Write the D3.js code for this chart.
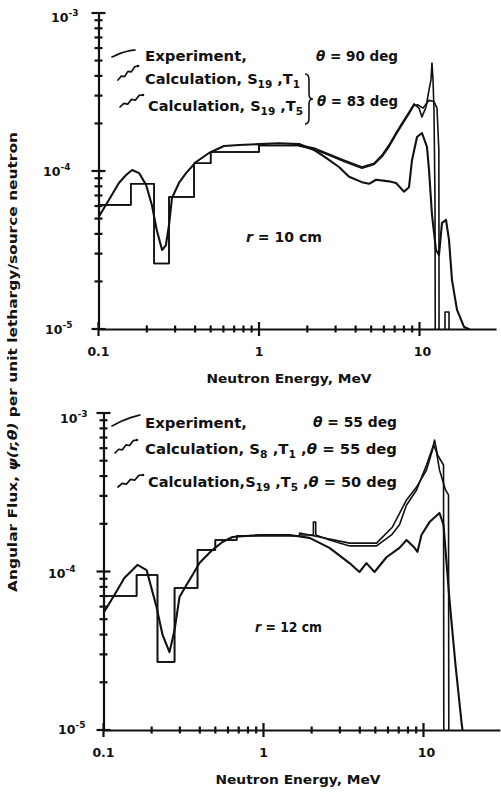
<!DOCTYPE html>
<html>
<head>
<meta charset="utf-8">
<script src="https://cdn.jsdelivr.net/npm/d3@7"></script>
<style>
  html, body { margin: 0; padding: 0; background: #fff; }
  svg { display: block; }
  text { font-family: 'DejaVu Sans', sans-serif; font-weight: bold; fill: #111; }
</style>
</head>
<body>
<svg id="chart" width="501" height="795"></svg>
<script>
// ---------- axis tick labels ----------
const xTickValues = [0.1, 1, 10];
const xTickLabels = ["0.1", "1", "10"];
const yTickValues = [1e-5, 1e-4, 1e-3];
const yTickExponents = ["-5", "-4", "-3"];

// ---------- r = 10 cm (upper panel) ----------
// group-histogram part shared by both calculations: bin edges (MeV) and flux per bin
const stepEdges10 = [0.1, 0.159, 0.222, 0.275, 0.394, 0.5, 1.0, 1.78];
const stepFlux10  = [6.1e-5, 8.3e-5, 2.6e-5, 6.85e-5, 1.12e-4, 1.32e-4, 1.45e-4];

// [energy MeV, flux]
const exp10 = [
  [0.1,5.1e-5],[0.116,6.55e-5],[0.134,8.4e-5],[0.148,9.4e-5],[0.162,1.015e-4],[0.179,9.7e-5],
  [0.198,8.15e-5],[0.215,6.1e-5],[0.231,4.2e-5],[0.249,3.16e-5],[0.263,3.4e-5],[0.275,4.55e-5],
  [0.287,6.75e-5],[0.317,8.4e-5],[0.351,9.7e-5],[0.405,1.14e-4],[0.488,1.30e-4],[0.605,1.44e-4],
  [0.75,1.46e-4],[1.0,1.48e-4],[1.33,1.50e-4],[1.78,1.48e-4],[2.2,1.36e-4],[2.62,1.21e-4],
  [3.15,1.06e-4],[3.64,9.2e-5],[4.38,8.5e-5],[4.85,8.3e-5],[5.36,8.8e-5],[6.45,8.6e-5],
  [7.14,8.4e-5],[8.0,7.4e-5],[8.6,7.9e-5],[8.98,1.17e-4],[9.65,1.64e-4],[10.36,1.74e-4],
  [11.13,1.42e-4],[11.46,1.02e-4],[11.96,5.3e-5],[12.67,3.16e-5],[13.23,2.94e-5],[13.81,4.7e-5],
  [14.63,4.9e-5],[15.27,3.66e-5],[15.94,2.04e-5],[17.13,1.32e-5],[18.94,1.03e-5],[20.3,1e-5]
];
const calcT1_10 = [
  [1.78,1.46e-4],[2.2,1.40e-4],[2.62,1.30e-4],[3.39,1.17e-4],[4.38,1.06e-4],[5.21,1.12e-4],
  [5.84,1.26e-4],[6.45,1.46e-4],[7.14,1.74e-4],[7.78,2.01e-4],[8.6,2.36e-4],[9.24,2.66e-4],
  [9.93,2.5e-4],[10.36,2.2e-4],[10.98,2.54e-4],[11.46,3.26e-4],[11.79,3.77e-4],[11.96,4.83e-4],
  [12.14,3.77e-4],[12.31,2.43e-4],[12.49,6.5e-5],[12.55,5e-6]
];
const calcT5_10 = [
  [1.78,1.44e-4],[2.2,1.37e-4],[2.62,1.28e-4],[3.39,1.15e-4],[4.38,1.04e-4],[5.21,1.10e-4],
  [5.84,1.23e-4],[6.45,1.42e-4],[7.14,1.70e-4],[7.78,1.96e-4],[8.6,2.30e-4],[9.24,2.60e-4],
  [9.79,2.62e-4],[10.51,2.50e-4],[11.46,2.80e-4],[12.31,2.75e-4],[12.85,2.50e-4],[13.2,1.36e-4],
  [13.25,5e-6],[14.42,5e-6],[14.42,1.28e-5],[15.27,1.28e-5],[15.27,5e-6]
];

// ---------- r = 12 cm (lower panel) ----------
const stepEdges12 = [0.1, 0.161, 0.2175, 0.278, 0.387, 0.5, 0.68, 1.68];
const stepFlux12  = [7.0e-5, 9.5e-5, 2.69e-5, 7.87e-5, 1.37e-4, 1.58e-4, 1.68e-4];

const exp12 = [
  [0.1,5.47e-5],[0.117,7.11e-5],[0.135,9.1e-5],[0.163,1.10e-4],[0.186,1.02e-4],[0.2145,5.97e-5],
  [0.234,3.98e-5],[0.2585,3.10e-5],[0.278,4.27e-5],[0.2985,6.9e-5],[0.33,8.22e-5],[0.36,9.5e-5],
  [0.398,1.13e-4],[0.48,1.37e-4],[0.554,1.535e-4],[0.64,1.65e-4],[0.944,1.70e-4],[1.454,1.70e-4],
  [1.94,1.63e-4],[2.585,1.41e-4],[3.447,1.13e-4],[3.98,9.93e-5],[4.40,1.13e-4],[4.94,9.93e-5],
  [5.87,1.23e-4],[7.08,1.41e-4],[7.83,1.58e-4],[8.79,1.41e-4],[9.17,1.33e-4],[9.71,1.70e-4],
  [10.9,2.05e-4],[12.59,2.34e-4],[13.34,1.97e-4],[14.54,6.6e-5],[15.85,2.57e-5],[17.28,1.12e-5],
  [17.53,1e-5]
];
const calcT1_12 = [
  [1.68,1.75e-4],[2.24,1.65e-4],[3.45,1.51e-4],[5.09,1.51e-4],[6.40,1.91e-4],[7.83,2.83e-4],
  [9.05,3.41e-4],[10.44,4.37e-4],[11.38,5.84e-4],[11.72,6.76e-4],[12.24,5.43e-4],[13.34,4.70e-4],
  [13.4,5e-6]
];
const calcT5_12 = [
  [1.68,1.70e-4],[2.05,1.70e-4],[2.05,2.05e-4],[2.12,2.05e-4],[2.12,1.70e-4],[2.59,1.58e-4],
  [3.45,1.45e-4],[5.09,1.45e-4],[6.31,1.70e-4],[7.08,1.97e-4],[7.83,2.63e-4],[9.05,3.27e-4],
  [10.44,4.70e-4],[11.55,6.28e-4],[12.06,5.67e-4],[12.59,4.37e-4],[13.73,3.27e-4],[14.33,3.04e-4],
  [14.4,5e-6]
];

// ---------- drawing ----------
const svg = d3.select("#chart");

function addRich(g, x, y, parts, size, opts = {}) {
  const t = g.append("text").attr("x", x).attr("y", y).attr("font-size", size);
  if (opts.anchor) t.attr("text-anchor", opts.anchor);
  if (opts.len) t.attr("textLength", opts.len).attr("lengthAdjust", "spacingAndGlyphs");
  if (opts.transform) t.attr("transform", opts.transform);
  let shift = 0;
  parts.forEach(p => {
    const s = typeof p === "string" ? { t: p } : p;
    const target = s.sub ? 4 : s.sup ? -6 : 0;
    const ts = t.append("tspan").text(s.t).attr("dy", target - shift);
    if (s.sub || s.sup) ts.attr("font-size", size * 0.72);
    if (s.it) ts.attr("font-style", "italic");
    shift = target;
  });
  return t;
}

function stepPoints(edges, flux) {
  const pts = [];
  flux.forEach((f, i) => { pts.push([edges[i], f], [edges[i + 1], f]); });
  return pts;
}

// legend glyph: smooth stroke, or a wiggly stroke with small kinks, from (x1,y1) to (x2,y2)
function swatch(g, x1, y1, x2, y2, jagged) {
  const n = jagged ? 6 : 3;
  const pts = d3.range(n + 1).map(i => {
    const t = i / n;
    const off = jagged ? (i % 2 ? -1.6 : 1.2) * (i > 0 && i < n ? 1 : 0)
                       : Math.sin(t * Math.PI) * -1.5;
    return [x1 + (x2 - x1) * t, y1 + (y2 - y1) * t + off];
  });
  g.append("path")
    .attr("d", d3.line().curve(jagged ? d3.curveLinear : d3.curveBasis)(pts))
    .attr("fill", "none").attr("stroke", "#111").attr("stroke-width", 1.7)
    .attr("stroke-linejoin", "round").attr("stroke-linecap", "round");
  if (jagged) {
    g.append("circle").attr("cx", x2).attr("cy", y2).attr("r", 1.3).attr("fill", "#111");
  }
}

function drawPanel(cfg, id) {
  const xMaxE = 30;
  const x = d3.scaleLog().domain([0.1, xMaxE])
    .range([cfg.x0, cfg.x0 + cfg.decade * Math.log10(xMaxE / 0.1)]);
  const y = d3.scaleLog().domain([1e-5, 1e-3]).range([cfg.bottom, cfg.top]);
  const g = svg.append("g");

  // clip for the curves
  svg.append("clipPath").attr("id", "clip" + id)
    .append("rect").attr("x", cfg.x0).attr("y", 0)
    .attr("width", 501 - cfg.x0).attr("height", cfg.bottom);

  const line = d3.line().x(d => x(d[0])).y(d => y(d[1]));
  const curves = g.append("g").attr("clip-path", `url(#clip${id})`)
    .attr("fill", "none").attr("stroke", "#111")
    .attr("stroke-linejoin", "round").attr("stroke-linecap", "round");
  const steps = stepPoints(cfg.edges, cfg.steps);
  curves.append("path").attr("d", line(steps.concat(cfg.t1))).attr("stroke-width", 1.6);
  curves.append("path").attr("d", line(steps.concat(cfg.t5))).attr("stroke-width", 1.6);
  curves.append("path").attr("d", line(cfg.exp)).attr("stroke-width", 2.1);

  const isMajor = v => Math.abs(Math.log10(v) - Math.round(Math.log10(v))) < 1e-6;

  // axis lines
  const yAx = g.append("g").attr("transform", `translate(${cfg.x0},0)`)
    .call(d3.axisLeft(y).tickValues([]).tickSizeOuter(0));
  yAx.select(".domain").attr("stroke", "#111").attr("stroke-width", 2.2);
  const xAx = g.append("g").attr("transform", `translate(0,${cfg.bottom})`)
    .call(d3.axisBottom(x).tickValues([]).tickSizeOuter(0));
  xAx.select(".domain").attr("stroke", "#111").attr("stroke-width", 2.2);

  // "+" ticks crossing the y axis at 1..9 per decade
  const yMinor = [];
  [-5, -4].forEach(k => d3.range(1, 10).forEach(m => yMinor.push(m * Math.pow(10, k))));
  yMinor.push(1e-3);
  g.append("g").selectAll("line").data(yMinor).join("line")
    .attr("x1", d => cfg.x0 - (isMajor(d) ? 7 : 4))
    .attr("x2", d => cfg.x0 + (isMajor(d) ? 7 : 4))
    .attr("y1", d => y(d)).attr("y2", d => y(d))
    .attr("stroke", "#111").attr("stroke-width", 2.2);

  // ticks crossing the x axis
  const xMinor = [];
  [-1, 0].forEach(k => d3.range(1, 10).forEach(m => xMinor.push(m * Math.pow(10, k))));
  xMinor.push(10);
  g.append("g").selectAll("line").data(xMinor).join("line")
    .attr("x1", d => x(d)).attr("x2", d => x(d))
    .attr("y1", d => cfg.bottom - (isMajor(d) ? 7 : 3.5))
    .attr("y2", d => cfg.bottom + (isMajor(d) ? 7 : 3.5))
    .attr("stroke", "#111").attr("stroke-width", 2.2);

  // tick labels
  xTickValues.forEach((v, i) => {
    g.append("text").attr("x", x(v) + (i === 2 ? 3 : 0)).attr("y", cfg.bottom + 27)
      .attr("text-anchor", "middle").attr("font-size", 12.5).text(xTickLabels[i]);
  });
  yTickValues.forEach((v, i) => {
    addRich(g, cfg.x0 - cfg.yLabOff[i], y(v) + cfg.yLabDy[i],
      ["10", { t: yTickExponents[i], sup: true }], 12.5, { anchor: "end" });
  });

  // axis title
  g.append("text").attr("x", cfg.titleX).attr("y", cfg.bottom + 54)
    .attr("text-anchor", "middle").attr("font-size", 13)
    .attr("textLength", 165).attr("lengthAdjust", "spacingAndGlyphs")
    .text("Neutron Energy, MeV");

  // radius label
  addRich(g, cfg.rLab[0], cfg.rLab[1], [{ t: "r", it: true }, " = " + cfg.rText + " cm"], 13.5,
    { len: cfg.rLab[2] });

  return g;
}

// ---------- upper panel ----------
const g10 = drawPanel({
  x0: 98.5, decade: 160.5, top: 13, bottom: 329,
  edges: stepEdges10, steps: stepFlux10, exp: exp10, t1: calcT1_10, t5: calcT5_10,
  yLabOff: [26, 28, 20], yLabDy: [5, 5, 9],
  titleX: 289, rLab: [246, 242, 76], rText: "10"
}, 10);

addRich(g10, 145, 61, ["Experiment,"], 14, { len: 102 });
addRich(g10, 316, 61, [{ t: "θ", it: true }, " = 90 deg"], 14, { len: 82 });
addRich(g10, 145, 84, ["Calculation, S", { t: "19", sub: true }, " ,T", { t: "1", sub: true }], 14, { len: 155 });
addRich(g10, 148, 111, ["Calculation, S", { t: "19", sub: true }, " ,T", { t: "5", sub: true }], 14, { len: 155 });
addRich(g10, 317, 106, [{ t: "θ", it: true }, " = 83 deg"], 14, { len: 81 });
g10.append("path")
  .attr("d", "M305,74 Q309,74 309,80 L309,94 Q309,99 313,99 Q309,99 309,104 L309,118 Q309,124 305,124")
  .attr("fill", "none").attr("stroke", "#111").attr("stroke-width", 1.6);
swatch(g10, 112, 57, 135, 50, false);
swatch(g10, 118, 80, 138, 66, true);
swatch(g10, 120, 107, 143, 95, true);

// ---------- lower panel ----------
const g12 = drawPanel({
  x0: 103.5, decade: 160, top: 413, bottom: 730,
  edges: stepEdges12, steps: stepFlux12, exp: exp12, t1: calcT1_12, t5: calcT5_12,
  yLabOff: [18, 28, 16], yLabDy: [4, 6, 10],
  titleX: 298, rLab: [255, 632, 67], rText: "12"
}, 12);

addRich(g12, 145, 428, ["Experiment,"], 14, { len: 102 });
addRich(g12, 313, 427, [{ t: "θ", it: true }, " = 55 deg"], 14, { len: 84 });
addRich(g12, 145, 454, ["Calculation, S", { t: "8", sub: true }, " ,T", { t: "1", sub: true },
  " ,", { t: "θ", it: true }, " = 55 deg"], 14, { len: 252 });
addRich(g12, 148, 487, ["Calculation,S", { t: "19", sub: true }, " ,T", { t: "5", sub: true },
  " ,", { t: "θ", it: true }, " = 50 deg"], 14, { len: 249 });
swatch(g12, 112, 426, 140, 415, false);
swatch(g12, 115, 453, 137, 440, true);
swatch(g12, 118, 487, 143, 475, true);

// ---------- shared y-axis title ----------
addRich(svg, 0, 0, ["Angular Flux, ", { t: "ψ(r,θ)", it: true }, " per unit lethargy/source neutron"], 13,
  { anchor: "middle", len: 460, transform: "translate(17,362) rotate(-90)" });
</script>
</body>
</html>
